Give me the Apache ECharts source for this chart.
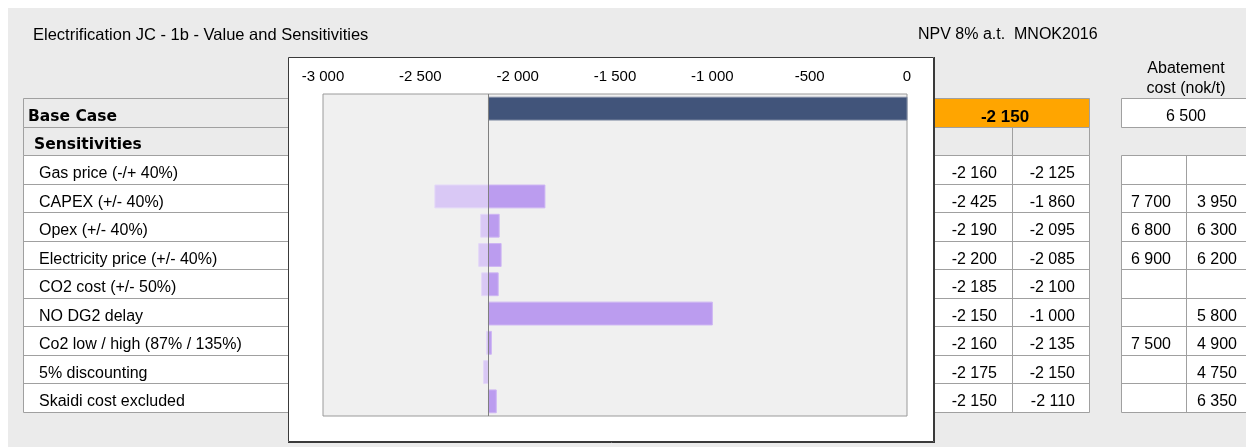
<!DOCTYPE html>
<html>
<head>
<meta charset="utf-8">
<title>Electrification JC - 1b - Value and Sensitivities</title>
<script src="https://cdn.jsdelivr.net/npm/echarts@6/dist/echarts.min.js"></script>
<style>
  html, body { margin: 0; padding: 0; background: #ffffff; }
  #chart { width: 1246px; height: 447px; }
</style>
</head>
<body>
<div id="chart"></div>
<script>
// ---- data ----
const titleText = 'Electrification JC - 1b - Value and Sensitivities';
const unitText = 'NPV 8% a.t.  MNOK2016';
const abatementHeader = ['Abatement', 'cost (nok/t)'];

const baseLabel = 'Base Case';
const sensHeader = 'Sensitivities';
const sensLabels = [
  'Gas price (-/+ 40%)',
  'CAPEX (+/- 40%)',
  'Opex (+/- 40%)',
  'Electricity price (+/- 40%)',
  'CO2 cost (+/- 50%)',
  'NO DG2 delay',
  'Co2 low / high (87% / 135%)',
  '5% discounting',
  'Skaidi cost excluded'
];

const baseNPV = -2150;
const baseAbatement = 6500;
const lowNPV  = [-2160, -2425, -2190, -2200, -2185, -2150, -2160, -2175, -2150];
const highNPV = [-2125, -1860, -2095, -2085, -2100, -1000, -2135, -2150, -2110];
const abateLow  = [null, 7700, 6800, 6900, null, null, 7500, null, null];
const abateHigh = [null, 3950, 6300, 6200, null, 5800, 4900, 4750, 6350];
// the gas price case is listed in the table but not plotted in the tornado
const plotted = [false, true, true, true, true, true, true, true, true];

const axisMin = -3000, axisMax = 0, axisStep = 500;

// ---- helpers ----
const FONT = '"Liberation Sans", Arial, sans-serif';
const BOLD_FONT = '"DejaVu Sans", Verdana, sans-serif';
function fmt(v) {
  const s = Math.abs(v).toString().replace(/\B(?=(\d{3})+(?!\d))/g, ' ');
  return (v < 0 ? '-' : '') + s;
}
const G = [];
function rect(x, y, w, h, fill, stroke, z) {
  G.push({ type: 'rect', z: z, silent: true,
    shape: { x: x + 0.5, y: y + 0.5, width: w, height: h },
    style: { fill: fill, stroke: stroke || null, lineWidth: 1 } });
}
function line(x1, y1, x2, y2, color, z, w) {
  G.push({ type: 'line', z: z, silent: true,
    shape: { x1: x1, y1: y1, x2: x2, y2: y2 },
    style: { stroke: color, lineWidth: w || 1 } });
}
function text(str, x, y, opt) {
  opt = opt || {};
  G.push({ type: 'text', z: opt.z || 1, silent: true, x: x, y: y,
    style: { text: str, fill: '#000', fontFamily: opt.family || FONT,
      fontSize: opt.size || 16, fontWeight: opt.bold ? 'bold' : 'normal',
      align: opt.align || 'left', verticalAlign: 'middle',
      textAlign: opt.align || 'left', textVerticalAlign: 'middle' } });
}

// ---- page background ----
G.push({ type: 'rect', z: 0, silent: true, shape: { x: 8, y: 8, width: 1238, height: 439 }, style: { fill: '#ebebeb' } });

// ---- layout of table rows ----
const baseTop = 98, sensTop = 127, rowsTop = 155, rowH = 28.5;
const rowY = i => Math.round(rowsTop + i * rowH);
const rowsBottom = rowY(sensLabels.length);
const gridColor = '#a0a0a0';
const textDy = 18.5;

// left label table
rect(23, baseTop, 300, sensTop - baseTop, '#ebebeb', gridColor, 1);
rect(23, sensTop, 300, rowsTop - sensTop, '#ebebeb', gridColor, 1);
rect(23, rowsTop, 300, rowsBottom - rowsTop, '#ffffff', gridColor, 1);
for (let i = 1; i < sensLabels.length; i++) line(23, rowY(i) + 0.5, 323, rowY(i) + 0.5, gridColor, 1);
text(baseLabel, 28, 116.5, { bold: true, family: BOLD_FONT, size: 15.5 });
text(sensHeader, 34, 144.5, { bold: true, family: BOLD_FONT, size: 15.5 });
sensLabels.forEach((s, i) => text(s, 39, rowY(i) + textDy, {}));

// NPV value table
const npvL = 890, npvMid = 1012, npvR = 1089;
rect(npvL, baseTop, npvR - npvL, sensTop - baseTop, '#ffa500', gridColor, 1);
rect(npvL, sensTop, npvR - npvL, rowsTop - sensTop, '#ebebeb', gridColor, 1);
rect(npvL, rowsTop, npvR - npvL, rowsBottom - rowsTop, '#ffffff', gridColor, 1);
line(npvMid + 0.5, sensTop, npvMid + 0.5, rowsBottom, gridColor, 1);
for (let i = 1; i < sensLabels.length; i++) line(npvL, rowY(i) + 0.5, npvR, rowY(i) + 0.5, gridColor, 1);
text(fmt(baseNPV), 1005, 117, { bold: true, align: 'center', size: 17 });
lowNPV.forEach((v, i) => text(fmt(v), 997, rowY(i) + textDy, { align: 'right' }));
highNPV.forEach((v, i) => text(fmt(v), 1075, rowY(i) + textDy, { align: 'right' }));

// abatement cost table
const abL = 1121, abMid = 1186, abR = 1252;
rect(abL, baseTop, abR - abL, sensTop - baseTop, '#ffffff', gridColor, 1);
rect(abL, rowsTop, abR - abL, rowsBottom - rowsTop, '#ffffff', gridColor, 1);
line(abMid + 0.5, rowsTop, abMid + 0.5, rowsBottom, gridColor, 1);
for (let i = 1; i < sensLabels.length; i++) line(abL, rowY(i) + 0.5, abR, rowY(i) + 0.5, gridColor, 1);
text(fmt(baseAbatement), 1186, 117, { align: 'center' });
abateLow.forEach((v, i) => { if (v != null) text(fmt(v), 1171, rowY(i) + textDy, { align: 'right' }); });
abateHigh.forEach((v, i) => { if (v != null) text(fmt(v), 1237, rowY(i) + textDy, { align: 'right' }); });

// headings
text(titleText, 33, 35, { size: 16.5 });
text(unitText, 918, 35, {});
text(abatementHeader[0], 1186, 68.5, { align: 'center' });
text(abatementHeader[1], 1186, 89, { align: 'center' });

// chart panel
G.push({ type: 'rect', z: 2, silent: true, shape: { x: 288.5, y: 57.5, width: 645, height: 384 },
  style: { fill: '#ffffff', stroke: '#3a3a3a', lineWidth: 1 } });
line(934.5, 57, 934.5, 443, '#3a3a3a', 2);
line(288, 442.5, 935, 442.5, '#3a3a3a', 2);

// ---- tornado bars ----
const categories = [baseLabel, sensHeader].concat(sensLabels);
const BASE = 0, DOWN = 1, UP = 2;
const barData = [[baseNPV, 0, 0, BASE]];
sensLabels.forEach((s, i) => {
  if (!plotted[i]) return;
  const cat = i + 2;
  if (lowNPV[i] < baseNPV) barData.push([lowNPV[i], baseNPV, cat, DOWN]);
  if (highNPV[i] > baseNPV) barData.push([baseNPV, highNPV[i], cat, UP]);
});
const fills = ['#41547a', '#d9c8f5', '#bb9cef'];
const edges = ['#7e8aa3', '#e3d7f8', '#cdb5f3'];

const chart = echarts.init(document.getElementById('chart'), null, { renderer: 'canvas' });
chart.setOption({
  animation: false,
  backgroundColor: 'transparent',
  graphic: { elements: G },
  grid: {
    left: 323, top: 94, width: 584, height: 322, show: true, z: 3,
    backgroundColor: '#f0f0f0', borderColor: '#9a9a9a', borderWidth: 1
  },
  xAxis: {
    type: 'value', position: 'top', min: axisMin, max: axisMax, interval: axisStep, z: 5,
    axisLine: { show: false }, axisTick: { show: false }, splitLine: { show: false },
    axisLabel: { formatter: fmt, color: '#000', fontFamily: FONT, fontSize: 15, margin: 10 }
  },
  yAxis: {
    type: 'category', data: categories, inverse: true,
    axisLine: { show: false }, axisTick: { show: false }, axisLabel: { show: false }, splitLine: { show: false }
  },
  series: [{
    type: 'custom', z: 4,
    dimensions: ['from', 'to', 'row', 'kind'],
    encode: { x: ['from', 'to'], y: 'row' },
    data: barData,
    renderItem: function (params, api) {
      const kind = api.value(3);
      const p0 = api.coord([api.value(0), api.value(2)]);
      const p1 = api.coord([api.value(1), api.value(2)]);
      const h = api.size([0, 1])[1] * 0.78;
      return {
        type: 'rect',
        shape: { x: Math.min(p0[0], p1[0]), y: p0[1] - h / 2, width: Math.abs(p1[0] - p0[0]), height: h },
        style: { fill: fills[kind], stroke: edges[kind], lineWidth: 1 }
      };
    }
  }, {
    // vertical reference line at the base case value
    type: 'custom', z: 5, silent: true,
    dimensions: ['npv'],
    encode: { x: 'npv' },
    data: [[baseNPV]],
    renderItem: function (params, api) {
      const cs = params.coordSys;
      const x = Math.round(api.coord([api.value(0), 0])[0]) + 0.5;
      return {
        type: 'line',
        shape: { x1: x, y1: cs.y, x2: x, y2: cs.y + cs.height },
        style: { stroke: '#808080', lineWidth: 1 }
      };
    }
  }]
});
</script>
</body>
</html>
